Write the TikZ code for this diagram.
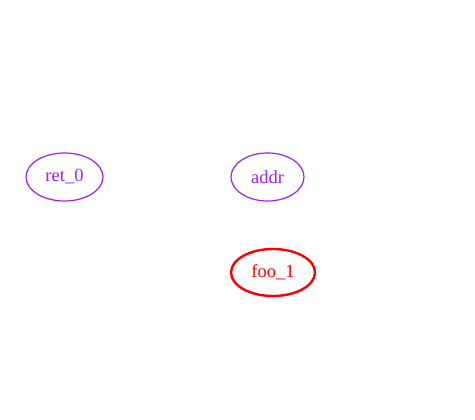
\documentclass[tikz,border=0pt]{standalone}
\usepackage{fontspec}
\setmainfont{Liberation Serif}
\usetikzlibrary{shapes.geometric}
\definecolor{gvpurple}{HTML}{A020F0}
\tikzset{
  x=1pt,y=1pt,
  gvnode/.style={ellipse,inner sep=0pt,font=\fontsize{18.5}{20}\selectfont},
  purplenode/.style={gvnode,draw=gvpurple,text=gvpurple,line width=1.2pt},
  rednode/.style={gvnode,draw=red,text=red,line width=2.4pt}
}
\begin{document}
\begin{tikzpicture}
\useasboundingbox (0,0) rectangle (475,420);
\node[purplenode,minimum width=77pt,minimum height=48pt] (ret0) at (64.5,243) {ret\_0};
\node[purplenode,minimum width=73pt,minimum height=48pt] (addr) at (267.5,243) {addr};
\node[rednode,minimum width=84pt,minimum height=47pt] (foo1) at (273,147.5) {foo\_1};
\end{tikzpicture}
\end{document}
